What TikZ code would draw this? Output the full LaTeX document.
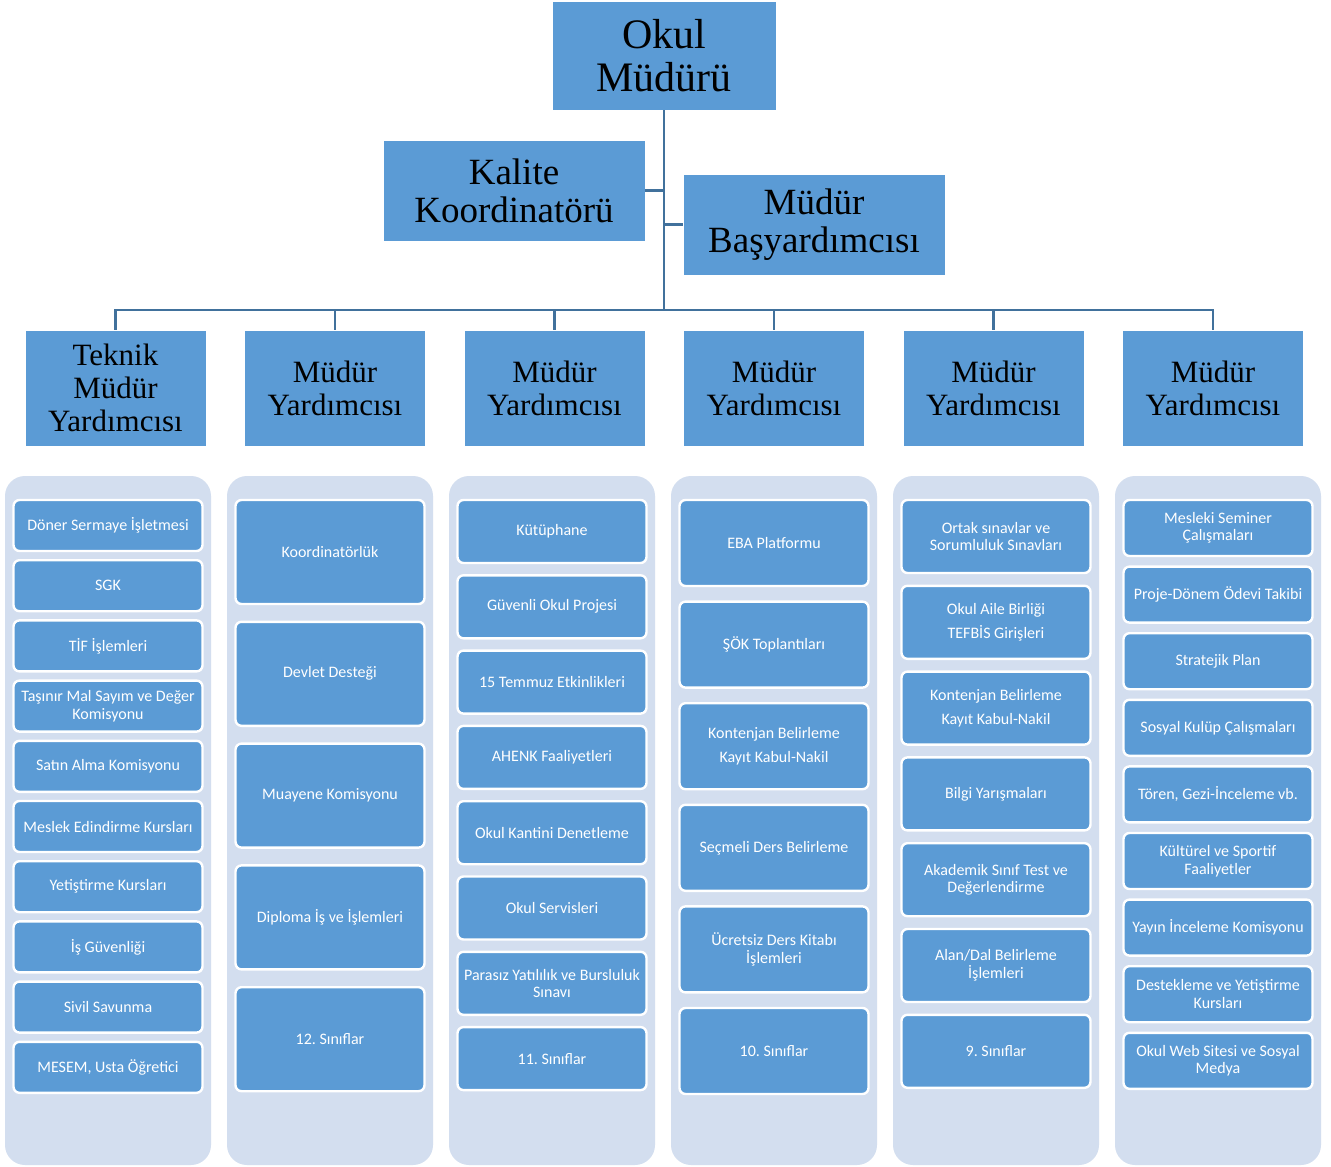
\documentclass[tikz,border=0pt]{standalone}
\usepackage{fontspec}
\setmainfont{Liberation Serif}
\newfontfamily\carlfont{Carlito}
\frenchspacing
\definecolor{boxblue}{HTML}{5B9BD5}
\definecolor{linkblue}{HTML}{41719C}
\definecolor{panel}{HTML}{D3DEEF}
\tikzset{
  head/.style={draw=white, line width=0.6pt, fill=boxblue, align=center, inner sep=0pt, text=black},
  toprole/.style={head, minimum width=224pt, minimum height=109pt, font=\fontsize{42}{43}\selectfont},
  midrole/.style={head, minimum width=262pt, minimum height=101pt, font=\fontsize{37}{38}\selectfont},
  deprole/.style={head, minimum width=181pt, minimum height=116pt, font=\fontsize{31}{33}\selectfont},
  panelbox/.style={fill=panel, rounded corners=20pt, minimum width=206pt, minimum height=689pt, inner sep=0pt},
  item/.style={draw=white, line width=2.4pt, fill=boxblue, rounded corners=6pt, minimum width=189pt, align=center, inner sep=0pt, text=white, font=\carlfont\fontsize{16}{17.5}\selectfont\frenchspacing},
  conn/.style={draw=linkblue, line width=2.5pt}
}
\begin{document}
\begin{tikzpicture}[x=1pt,y=-1pt]
\useasboundingbox (0,0) rectangle (1331,1167);
\fill[white] (0,0) rectangle (1331,1167);
% top level
\node[toprole] (root) at (664,55.5) {Okul\\Müdürü};
\node[midrole] (kalite) at (514,190.5) {Kalite\\Koordinatörü};
\node[midrole] (bas) at (814,224.5) {Müdür\\Başyardımcısı};
\coordinate (bus) at (664,310);
% second level
\node[deprole] (m1) at (115.5,388) {Teknik\\Müdür\\Yardımcısı};
\node[deprole] (m2) at (335,388) {Müdür\\Yardımcısı};
\node[deprole] (m3) at (554.5,388) {Müdür\\Yardımcısı};
\node[deprole] (m4) at (774,388) {Müdür\\Yardımcısı};
\node[deprole] (m5) at (993.5,388) {Müdür\\Yardımcısı};
\node[deprole] (m6) at (1213,388) {Müdür\\Yardımcısı};
% connectors
\draw[conn] (root.south) -- (bus);
\draw[conn] (kalite.east) -- (kalite.east -| bus);
\draw[conn] (bas.west) -- (bas.west -| bus);
\foreach \k in {1,...,6}{\draw[conn] (m\k.north) |- (bus);}
% panels
\foreach \k/\cx in {1/108,2/330,3/552,4/774,5/996,6/1218}{
  \node[panelbox] (p\k) at (\cx,820.5) {};
}
% column 1
\foreach \t [count=\i] in {Döner Sermaye İşletmesi, SGK, TİF İşlemleri, {Taşınır Mal Sayım ve Değer\\Komisyonu}, Satın Alma Komisyonu, Meslek Edindirme Kursları, Yetiştirme Kursları, İş Güvenliği, Sivil Savunma, {MESEM, Usta Öğretici}}{
  \node[item, minimum height=51pt] (a\i) at (108,{500+25.5+(\i-1)*60.2}) {\t};
}
% column 2
\foreach \t [count=\i] in {Koordinatörlük, Devlet Desteği, Muayene Komisyonu, Diploma İş ve İşlemleri, 12. Sınıflar}{
  \node[item, minimum height=104pt] (b\i) at (330,{500+52+(\i-1)*121.8}) {\t};
}
% column 3
\foreach \t [count=\i] in {Kütüphane, Güvenli Okul Projesi, 15 Temmuz Etkinlikleri, AHENK Faaliyetleri, Okul Kantini Denetleme, Okul Servisleri, {Parasız Yatılılık ve Bursluluk\\Sınavı}, 11. Sınıflar}{
  \node[item, minimum height=63pt] (c\i) at (552,{500+31.5+(\i-1)*75.3}) {\t};
}
% column 4
\foreach \t [count=\i] in {EBA Platformu, ŞÖK Toplantıları, {Kontenjan Belirleme\\[7pt]Kayıt Kabul-Nakil}, Seçmeli Ders Belirleme, {Ücretsiz Ders Kitabı\\İşlemleri}, 10. Sınıflar}{
  \node[item, minimum height=86pt] (d\i) at (774,{500+43+(\i-1)*101.6}) {\t};
}
% column 5
\foreach \t [count=\i] in {{Ortak sınavlar ve\\Sorumluluk Sınavları}, {Okul Aile Birliği\\[6pt]TEFBİS Girişleri}, {Kontenjan Belirleme\\[7pt]Kayıt Kabul-Nakil}, Bilgi Yarışmaları, {Akademik Sınıf Test ve\\Değerlendirme}, {Alan/Dal Belirleme\\İşlemleri}, 9. Sınıflar}{
  \node[item, minimum height=73pt] (e\i) at (996,{500+36.5+(\i-1)*85.8}) {\t};
}
% column 6
\foreach \t [count=\i] in {{Mesleki Seminer\\Çalışmaları}, Proje-Dönem Ödevi Takibi, Stratejik Plan, Sosyal Kulüp Çalışmaları, {Tören, Gezi-İnceleme vb.}, {Kültürel ve Sportif\\Faaliyetler}, Yayın İnceleme Komisyonu, {Destekleme ve Yetiştirme\\Kursları}, {Okul Web Sitesi ve Sosyal\\Medya}}{
  \node[item, minimum height=56pt] (f\i) at (1218,{500+28+(\i-1)*66.6}) {\t};
}
\end{tikzpicture}
\end{document}
